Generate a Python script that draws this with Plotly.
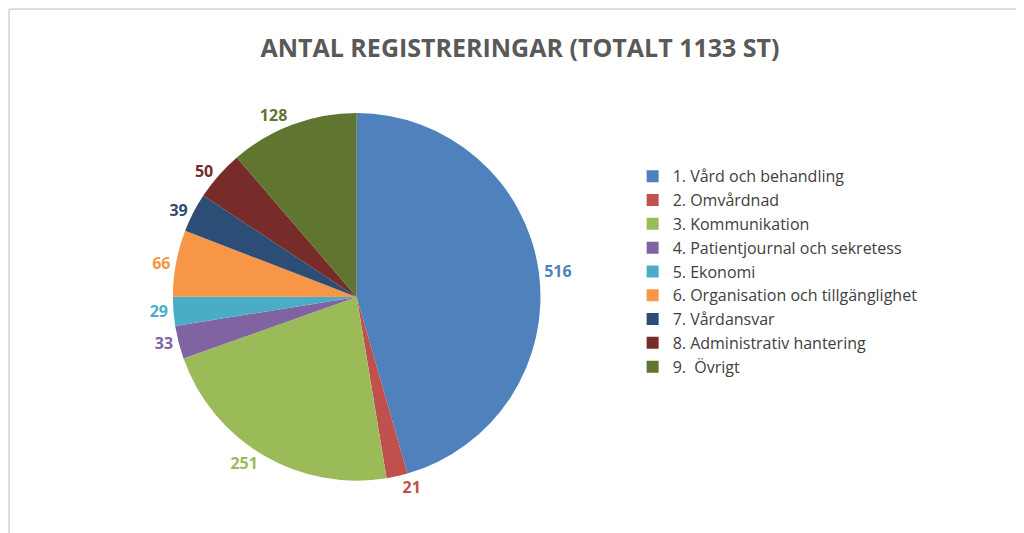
import plotly.graph_objects as go

categories = ["1. Vård och behandling", "2. Omvårdnad", "3. Kommunikation",
              "4. Patientjournal och sekretess", "5. Ekonomi",
              "6. Organisation och tillgänglighet", "7. Vårdansvar",
              "8. Administrativ hantering", "9.  Övrigt"]
values = [516, 21, 251, 33, 29, 66, 39, 50, 128]
colors = ["#4F81BD", "#C0504D", "#9BBB59", "#8064A2", "#4BACC6",
          "#F79646", "#2C4D75", "#772C2A", "#5F7530"]

fig = go.Figure(go.Pie(
    labels=categories, values=values, sort=False, direction="clockwise",
    rotation=0, marker=dict(colors=colors),
    textinfo="value", textposition="outside",
    textfont=dict(color=colors, size=16, family="Open Sans"),
    texttemplate="<b>%{value}</b>",
    domain=dict(x=[0.161, 0.52], y=[0.113, 0.803]),
))
fig.update_layout(
    width=1024, height=533, paper_bgcolor="white",
    margin=dict(l=0, r=0, t=0, b=0),
    font=dict(family="Open Sans", color="#404040"),
    title=dict(text="<b>ANTAL REGISTRERINGAR (TOTALT 1133 ST)</b>",
               x=0.5, xanchor="center", y=0.925, yanchor="middle",
               font=dict(size=25, color="#595959")),
    legend=dict(x=0.61, y=0.505, yanchor="middle", font=dict(size=16, color="#404040"),
                itemwidth=30, tracegroupgap=0),
    shapes=[dict(type="rect", xref="paper", yref="paper", x0=0.001, y0=0.002, x1=0.999, y1=0.998,
                 line=dict(color="#BFBFBF", width=1))],
)
fig.write_html("out.html")
